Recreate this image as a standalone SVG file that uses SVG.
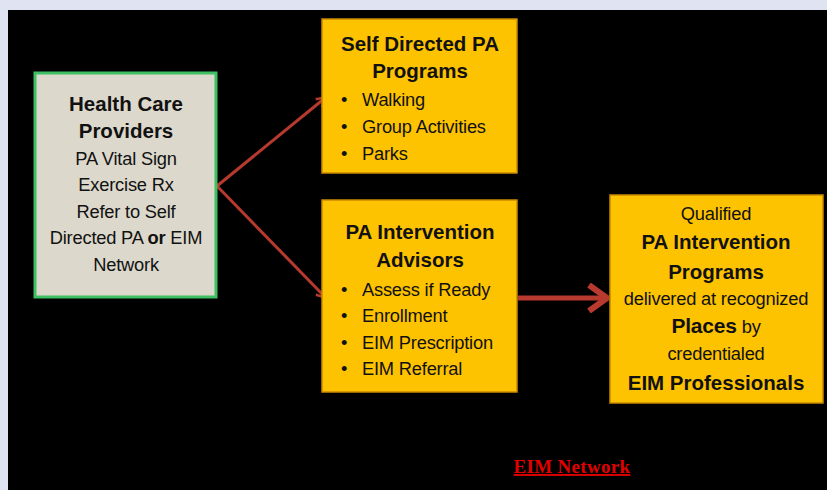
<svg xmlns="http://www.w3.org/2000/svg" width="827" height="490" viewBox="0 0 827 490">
<style>
.t{font-family:"Liberation Sans",Arial,sans-serif;fill:#111;text-anchor:middle}
.h{font-weight:bold;font-size:20.5px}
.r{font-size:18.3px;letter-spacing:-0.2px}
.l{text-anchor:start}
.gold{fill:#fec300;stroke:#c98a00;stroke-width:1.5}
.edge{stroke:#b8392e;fill:none}
</style>
<defs>
<marker id="ah" markerWidth="12" markerHeight="12" refX="9" refY="6" orient="auto" markerUnits="userSpaceOnUse">
<path d="M1,1 L10,6 L1,11" fill="none" stroke="#b8392e" stroke-width="2.5"/>
</marker>
<marker id="ah2" markerWidth="24" markerHeight="30" refX="22" refY="15" orient="auto" markerUnits="userSpaceOnUse">
<path d="M4,2 L22,15 L4,28" fill="none" stroke="#b8392e" stroke-width="6" stroke-linejoin="round"/>
</marker>
</defs>
<rect x="0" y="0" width="827" height="490" fill="#dfe3f2"/>
<rect x="8" y="10" width="819" height="480" fill="#000"/>
<g id="connectors">
<line class="edge" x1="217" y1="186" x2="325" y2="98" stroke-width="3" marker-end="url(#ah)"/>
<line class="edge" x1="217" y1="186" x2="325" y2="297" stroke-width="3" marker-end="url(#ah)"/>
<line class="edge" x1="518" y1="298" x2="607" y2="298" stroke-width="5" marker-end="url(#ah2)"/>
</g>
<g id="health-care-providers">
<rect x="35" y="73" width="181" height="224" fill="#dcd8cc" stroke="#3dbf62" stroke-width="3"/>
<text class="t h" x="126" y="111">Health Care</text>
<text class="t h" x="126" y="138">Providers</text>
<text class="t r" x="126" y="165">PA Vital Sign</text>
<text class="t r" x="126" y="191">Exercise Rx</text>
<text class="t r" x="126" y="218">Refer to Self</text>
<text class="t r" x="126" y="244">Directed PA <tspan font-weight="bold">or</tspan> EIM</text>
<text class="t r" x="126" y="271">Network</text>
</g>
<g id="self-directed">
<rect class="gold" x="322" y="19" width="195" height="154"/>
<text class="t h" x="420" y="51">Self Directed PA</text>
<text class="t h" x="420" y="78">Programs</text>
<text class="t r l" x="341" y="106">•</text><text class="t r l" x="362" y="106">Walking</text>
<text class="t r l" x="341" y="133">•</text><text class="t r l" x="362" y="133">Group Activities</text>
<text class="t r l" x="341" y="160">•</text><text class="t r l" x="362" y="160">Parks</text>
</g>
<g id="pa-intervention-advisors">
<rect class="gold" x="322" y="200" width="195" height="192"/>
<text class="t h" x="420" y="239">PA Intervention</text>
<text class="t h" x="420" y="267">Advisors</text>
<text class="t r l" x="341" y="296">•</text><text class="t r l" x="362" y="296">Assess if Ready</text>
<text class="t r l" x="341" y="322">•</text><text class="t r l" x="362" y="322">Enrollment</text>
<text class="t r l" x="341" y="349">•</text><text class="t r l" x="362" y="349">EIM Prescription</text>
<text class="t r l" x="341" y="375">•</text><text class="t r l" x="362" y="375">EIM Referral</text>
</g>
<g id="pa-intervention-programs">
<rect class="gold" x="610" y="195" width="213" height="208"/>
<text class="t r" x="716" y="220">Qualified</text>
<text class="t h" x="716" y="249" font-size="22">PA Intervention</text>
<text class="t h" x="716" y="279" font-size="22">Programs</text>
<text class="t r" x="716" y="305">delivered at recognized</text>
<text class="t r" x="716" y="333"><tspan font-weight="bold" font-size="21">Places</tspan> by</text>
<text class="t r" x="716" y="360">credentialed</text>
<text class="t h" x="716" y="390" font-size="21.5">EIM Professionals</text>
</g>
<text x="572" y="473" font-family="'Liberation Serif',serif" font-weight="bold" font-size="19" fill="#e00000" text-anchor="middle" text-decoration="underline" letter-spacing="0.3">EIM Network</text>
</svg>
